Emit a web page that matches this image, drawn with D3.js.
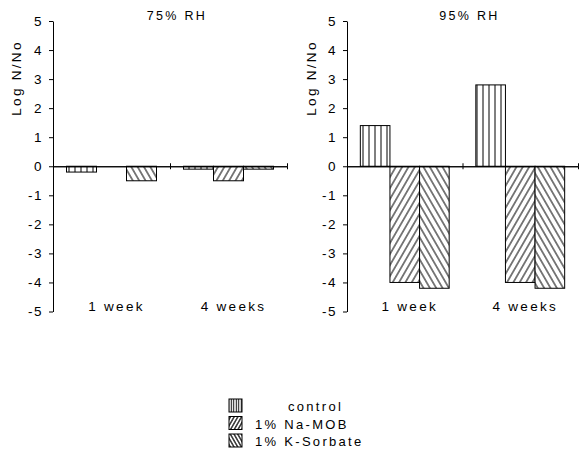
<!DOCTYPE html>
<html>
<head>
<meta charset="utf-8">
<script src="https://cdn.jsdelivr.net/npm/d3@7"></script>
<style>
  body { margin: 0; background: #fff; }
  text { font-family: "Liberation Sans", Arial, sans-serif; fill: #000; }
</style>
</head>
<body>
<div id="chart"></div>
<script>
/* categories and series */
const groups = ["1 week", "4 weeks"];
const series = ["control", "1% Na-MOB", "1% K-Sorbate"];
const panelTitles = ["75% RH", "95% RH"];
const yTicks = [-5, -4, -3, -2, -1, 0, 1, 2, 3, 4, 5];

/* Log N/No values, one entry per group (1 week, 4 weeks) */
const rh75Control = [-0.2, -0.1];
const rh75NaMob = [0, -0.5];
const rh75KSorbate = [-0.5, -0.1];
const rh95Control = [1.4, 2.8];
const rh95NaMob = [-4.0, -4.0];
const rh95KSorbate = [-4.2, -4.2];

const panelValues = [
    [rh75Control, rh75NaMob, rh75KSorbate],
    [rh95Control, rh95NaMob, rh95KSorbate]
];

const width = 586;
const height = 459;

let svg = d3.select("#chart")
    .append("svg")
    .attr("width", width)
    .attr("height", height);

/* hatch patterns: vertical for control, / for Na-MOB, \ for K-Sorbate */
let defs = svg.append("defs");
function addPattern(id, gap, angle, sw) {
    let p = defs.append("pattern")
        .attr("id", id)
        .attr("patternUnits", "userSpaceOnUse")
        .attr("width", gap)
        .attr("height", gap)
        .attr("patternTransform", "rotate(" + angle + ")");
    p.append("rect").attr("width", gap).attr("height", gap).attr("fill", "#fff");
    p.append("line")
        .attr("x1", gap / 2).attr("x2", gap / 2)
        .attr("y1", 0).attr("y2", gap)
        .attr("stroke", "#000")
        .attr("stroke-width", sw);
}
addPattern("p0", 6, 0, 1);
addPattern("p1", 5.5, 30, 1);
addPattern("p2", 5.5, -30, 1);
addPattern("l0", 2.5, 0, 1);
addPattern("l1", 3.2, 30, 1.2);
addPattern("l2", 3.2, -30, 1.2);

/* shared y scale for both panels */
let yScale = d3.scaleLinear()
    .domain([-5, 5])
    .range([311.5, 21]);

const panelRanges = [[53, 287], [347, 578]];
const labelX = [21, 316];

panelTitles.forEach(function(title, pi) {
    let range = panelRanges[pi];
    let g = svg.append("g");

    let x0 = d3.scaleBand().domain(groups).range(range);
    let x1 = d3.scaleBand().domain(series).range([0, x0.bandwidth()])
        .paddingInner(0).paddingOuter(0.45);

    /* bars */
    series.forEach(function(s, si) {
        let vals = panelValues[pi][si];
        g.selectAll("rect.s" + si)
            .data(vals)
            .enter()
            .append("rect")
            .attr("class", "s" + si)
            .attr("x", function(d, i) { return x0(groups[i]) + x1(s); })
            .attr("y", function(d) { return yScale(Math.max(0, d)); })
            .attr("width", x1.bandwidth())
            .attr("height", function(d) { return Math.abs(yScale(d) - yScale(0)); })
            .attr("fill", "url(#p" + si + ")")
            .attr("stroke", "#000")
            .attr("stroke-width", 1);
    });

    /* y axis */
    let yAxis = d3.axisLeft(yScale)
        .tickValues(yTicks)
        .tickSize(4)
        .tickSizeOuter(0)
        .tickPadding(6)
        .tickFormat(function(d) { return d < 0 ? "-" + Math.abs(d) : d; });
    let ya = g.append("g")
        .attr("transform", "translate(" + range[0] + ",0)")
        .call(yAxis);
    ya.selectAll("text")
        .style("font-size", "13.5px")
        .style("letter-spacing", "1.5px")
        .style("font-family", "'Liberation Sans', Arial, sans-serif")
        .attr("fill", "#000");
    ya.selectAll("path, line").attr("stroke", "#000");

    /* zero line with ticks at group boundaries */
    let xb = d3.scaleLinear().domain([0, groups.length]).range(range);
    [d3.axisBottom(xb), d3.axisTop(xb)].forEach(function(ax) {
        let xa = g.append("g")
            .attr("transform", "translate(0," + yScale(0) + ")")
            .call(ax.tickValues([1, 2]).tickSize(3).tickSizeOuter(0).tickFormat(""));
        xa.selectAll("path, line").attr("stroke", "#000");
    });

    /* group labels */
    g.selectAll("text.grp")
        .data(groups)
        .enter()
        .append("text")
        .attr("class", "grp")
        .attr("x", function(d) { return x0(d) + x0.bandwidth() / 2 + 5; })
        .attr("y", 311)
        .attr("text-anchor", "middle")
        .style("font-size", "13.5px")
        .style("letter-spacing", "2.3px")
        .text(function(d) { return d; });

    /* title */
    g.append("text")
        .attr("x", (range[0] + range[1]) / 2 + 7)
        .attr("y", 20)
        .attr("text-anchor", "middle")
        .style("font-size", "12.5px")
        .style("letter-spacing", "2.3px")
        .text(title);

    /* y label */
    g.append("text")
        .attr("transform", "translate(" + labelX[pi] + ",78) rotate(-90)")
        .attr("text-anchor", "middle")
        .style("font-size", "13.5px")
        .style("letter-spacing", "2.3px")
        .text("Log N/No");
});

/* legend */
let legend = svg.append("g");
const legendTextX = [288, 255, 255];
series.forEach(function(s, i) {
    let cy = 406 + i * 17.5;
    legend.append("rect")
        .attr("x", 229)
        .attr("y", cy - 7)
        .attr("width", 13)
        .attr("height", 13)
        .attr("fill", "url(#l" + i + ")")
        .attr("stroke", "#000")
        .attr("stroke-width", 1);
    legend.append("text")
        .attr("x", legendTextX[i])
        .attr("y", cy + 5)
        .style("font-size", "13px")
        .style("letter-spacing", "2.3px")
        .text(s);
});
</script>
</body>
</html>
